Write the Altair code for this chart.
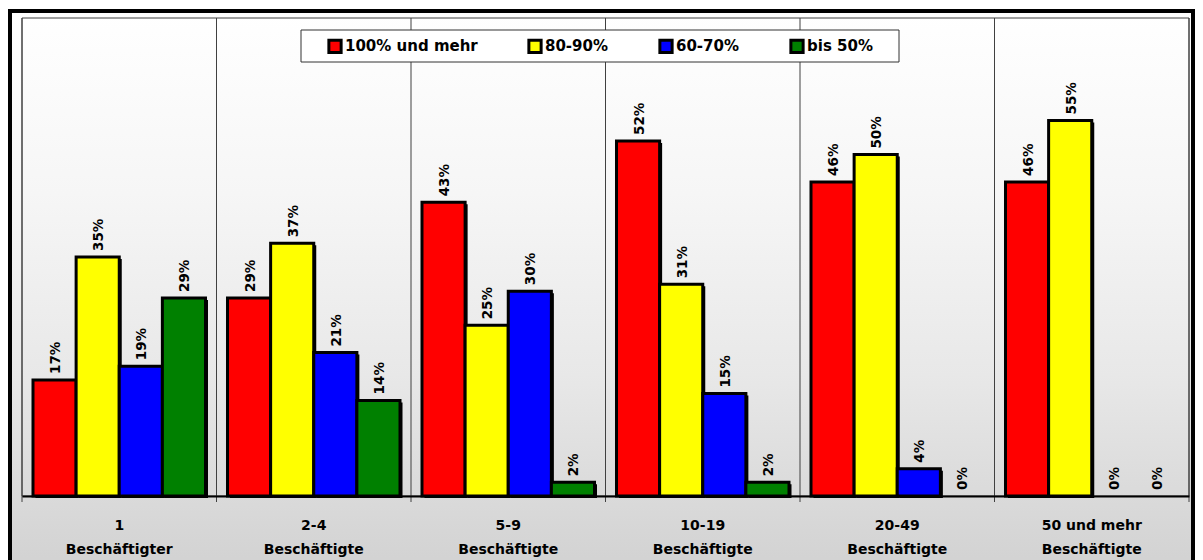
import altair as alt
import pandas as pd

categories = ["1|Beschäftigter", "2-4|Beschäftigte", "5-9|Beschäftigte",
              "10-19|Beschäftigte", "20-49|Beschäftigte", "50 und mehr|Beschäftigte"]
series = ["100% und mehr", "80-90%", "60-70%", "bis 50%"]
colors = ["#FF0000", "#FFFF00", "#0000FF", "#008000"]

v_100 = [17, 29, 43, 52, 46, 46]
v_80 = [35, 37, 25, 31, 50, 55]
v_60 = [19, 21, 30, 15, 4, 0]
v_50 = [29, 14, 2, 2, 0, 0]

rows = []
for s, vals in zip(series, [v_100, v_80, v_60, v_50]):
    for c, v in zip(categories, vals):
        rows.append({"cat": c, "series": s, "value": v, "label": f"{v}%"})
df = pd.DataFrame(rows)
df_bars = df[df["value"] > 0]
cat_df = pd.DataFrame({"cat": categories})
one = pd.DataFrame({"k": [0]})

W, H = 1167, 478
STEP = W / len(categories)
PAD_OUT = 0.255
FONT = "DejaVu Sans"

xenc = alt.X("cat:N", sort=categories,
             scale=alt.Scale(paddingInner=0, paddingOuter=0),
             axis=alt.Axis(title=None, labelAngle=0, ticks=False, grid=False,
                           domainColor="black", domainWidth=2,
                           labelFont=FONT, labelFontWeight="bold", labelFontSize=14,
                           labelColor="black", labelPadding=22, labelLineHeight=24,
                           labelExpr="split(datum.label, '|')", zindex=1))


def xoff(shift=0):
    if shift:
        sc = alt.Scale(type="band", paddingInner=0, paddingOuter=PAD_OUT,
                       range=[shift, STEP + shift])
    else:
        sc = alt.Scale(type="band", paddingInner=0, paddingOuter=PAD_OUT)
    return alt.XOffset("series:N", sort=series, scale=sc)


# point scale whose points sit at the centres of the bar sub-bands
xoff_text = alt.XOffset("series:N", sort=series,
                        scale=alt.Scale(type="point", padding=PAD_OUT + 0.5))

yenc = alt.Y("value:Q", scale=alt.Scale(domain=[0, 70]), axis=None)

grad = alt.LinearGradient(
    gradient="linear", x1=0, x2=0, y1=0, y2=1,
    stops=[alt.GradientStop(color="#ffffff", offset=0),
           alt.GradientStop(color="#f6f6f6", offset=0.3),
           alt.GradientStop(color="#e8e8e8", offset=0.6),
           alt.GradientStop(color="#dadada", offset=0.8),
           alt.GradientStop(color="#d3d3d3", offset=0.9),
           alt.GradientStop(color="#d0d0d0", offset=1)])

bg = alt.Chart(one).mark_rect(fill=grad).encode(
    x=alt.value(-12), x2=alt.value(W + 4), y=alt.value(-7), y2=alt.value(600))

grid = alt.Chart(cat_df).mark_rule(color="#404040", strokeWidth=1).encode(
    x=alt.X("cat:N", sort=categories, bandPosition=0),
    y=alt.value(0), y2=alt.value(H + 6))

right_tick = alt.Chart(one).mark_rule(color="#404040", strokeWidth=1).encode(
    x=alt.value(W), y=alt.value(0), y2=alt.value(H + 6))

border = alt.Chart(one).mark_rect(fill="transparent", stroke="#404040", strokeWidth=1).encode(
    x=alt.value(0), x2=alt.value(W), y=alt.value(0), y2=alt.value(H))

legend_box = alt.Chart(one).mark_rect(fill="white", stroke="#333333", strokeWidth=1).encode(
    x=alt.value(279), x2=alt.value(877), y=alt.value(12), y2=alt.value(44))

shadow = alt.Chart(df_bars).mark_bar(color="black", yOffset=2).encode(
    x=alt.X("cat:N", sort=categories), xOffset=xoff(2.5), y=yenc)

bars = alt.Chart(df_bars).mark_bar(stroke="black", strokeWidth=3).encode(
    x=alt.X("cat:N", sort=categories), xOffset=xoff(), y=yenc,
    color=alt.Color("series:N", sort=series,
                    scale=alt.Scale(domain=series, range=colors),
                    legend=alt.Legend(title=None, orient="none", legendX=305, legendY=20,
                                      direction="horizontal", columns=4, columnPadding=44,
                                      symbolType="square", symbolSize=150,
                                      symbolStrokeColor="black", symbolStrokeWidth=3,
                                      labelFont=FONT, labelFontWeight="bold",
                                      labelFontSize=15, labelColor="black",
                                      labelOffset=2, zindex=1)))

texts = alt.Chart(df).mark_text(angle=270, align="left", baseline="middle", dx=6, dy=1.5,
                                font=FONT, fontWeight="bold", fontSize=13.5,
                                color="black").encode(
    x=alt.X("cat:N", sort=categories), xOffset=xoff_text, y=yenc, text="label:N")

frame = alt.Chart(one).mark_rect(fill="transparent", stroke="black", strokeWidth=4).encode(
    x=alt.value(-12), x2=alt.value(W + 4), y=alt.value(-7), y2=alt.value(600))

chart = alt.layer(bg, grid, right_tick, border, legend_box, shadow, bars, texts, frame).encode(
    x=xenc
).resolve_scale(xOffset="independent").properties(
    width=W, height=H,
    autosize=alt.AutoSizeParams(type="none"),
    padding={"left": 14, "top": 10, "right": 6, "bottom": 70},
).configure_view(stroke=None).configure(background="white")

chart.save("out.html", embed_options={"renderer": "svg", "actions": False})
